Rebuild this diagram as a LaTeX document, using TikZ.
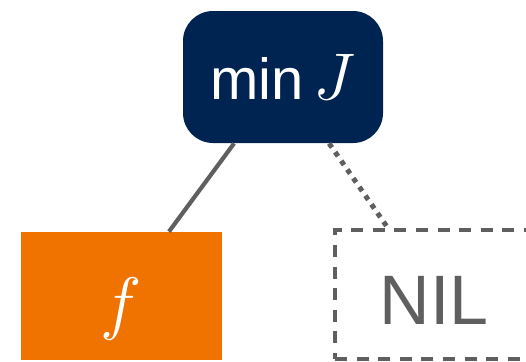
\documentclass[tikz,border=0pt]{standalone}
\usepackage{fix-cm}
\usepackage{fontspec}
\setmainfont{Liberation Sans}
\definecolor{navy}{HTML}{002451}
\definecolor{tangerine}{HTML}{F07300}
\definecolor{slate}{HTML}{5F5F5F}
\begin{document}
\begin{tikzpicture}[x=0.5pt,y=-0.5pt,
  goal/.style={fill=navy,rounded corners=15pt,minimum width=100pt,minimum height=66pt,inner sep=0pt,text=white},
  leaf/.style={fill=tangerine,minimum width=100.5pt,minimum height=64pt,inner sep=0pt,text=white},
  none/.style={draw=slate,line width=2.2pt,dash pattern=on 6pt off 4.8pt,minimum width=99pt,minimum height=64.5pt,inner sep=0pt,text=slate},
  link/.style={draw=slate,line width=2.1pt}]
\useasboundingbox (0,0) rectangle (526,361);
\node[goal] (minj) at (283,77) {\fontsize{29}{30}\selectfont min\,{\fontsize{33}{36}\selectfont$J$}};
\node[leaf,text height=37pt,text depth=6.8pt] (f) at (121.5,296) {\fontsize{35}{36}\selectfont$f$};
\node[none,text height=30pt] (nil) at (434,294.5) {\fontsize{35}{36}\selectfont NIL};
\draw[link] (minj) -- (f);
\draw[link,line width=2.5pt,dash pattern=on 2.5pt off 2.8pt] (minj) -- (nil);
\end{tikzpicture}
\end{document}
